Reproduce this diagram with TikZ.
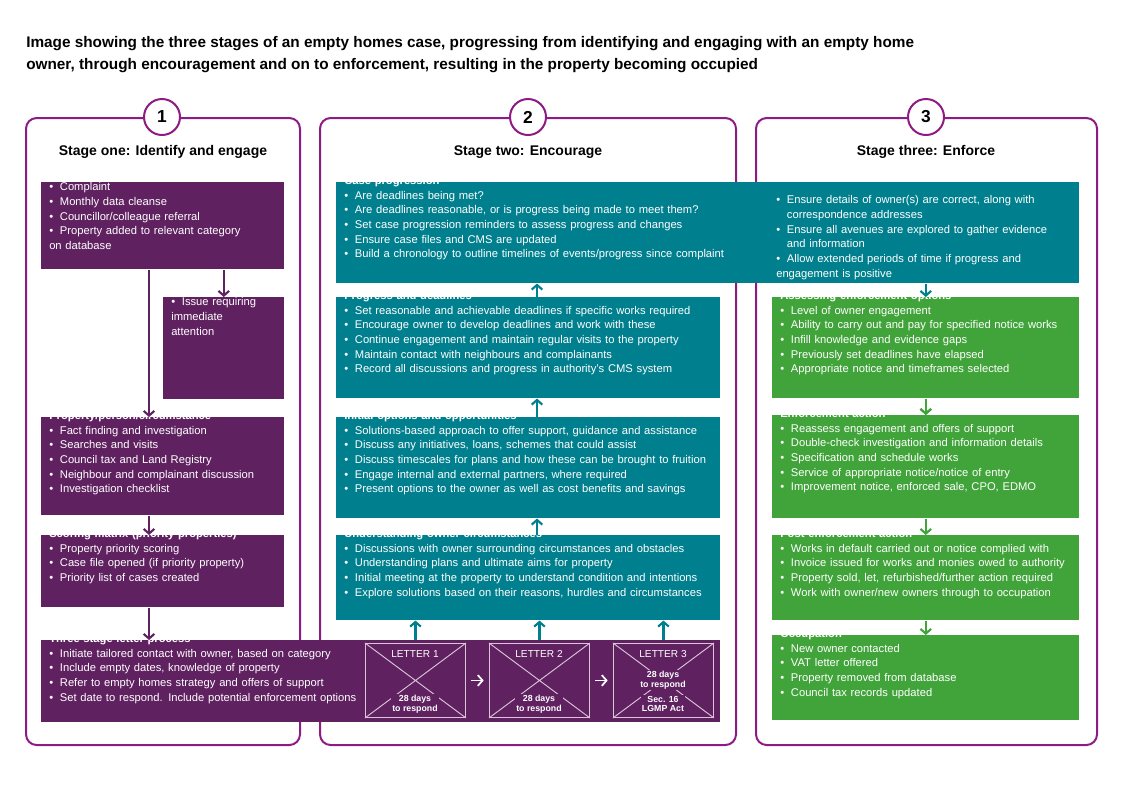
\documentclass[tikz,border=0pt]{standalone}
\usepackage{fontspec}
\setmainfont{Liberation Sans}
\usetikzlibrary{arrows.meta,positioning}
\definecolor{plum}{HTML}{5F2160}
\definecolor{petrol}{HTML}{00808E}
\definecolor{leaf}{HTML}{41A43A}
\definecolor{frame}{HTML}{8E1B83}
\definecolor{flap}{HTML}{D8C6D8}
\tikzset{
  box/.style={anchor=north west, inner sep=0pt, draw=none},
  txt/.style={anchor=north west, inner sep=0pt, text=white, align=left,
    font=\fontsize{8.4}{11}\selectfont},
  arr/.style={line width=1.6pt, -{Straight Barb[length=3.5pt,width=8pt]}},
  stageframe/.style={draw=frame, line width=1.5pt, rounded corners=8pt},
  num/.style={circle, draw=frame, line width=1.5pt, fill=white, minimum size=27pt,
    inner sep=0pt, font=\fontsize{13}{13}\selectfont\bfseries},
  head/.style={font=\fontsize{10.5}{12}\selectfont\bfseries},
  env/.style={draw=flap, line width=0.7pt, minimum width=75pt, minimum height=55.5pt,
    inner sep=0pt},
  envtxt/.style={fill=plum, text=white, inner sep=1pt, align=center,
    font=\fontsize{6.6}{7.4}\selectfont\bfseries},
}
\newcommand\itm[1]{\par\noindent\hangindent=8pt\hangafter=1\makebox[8pt][l]{\textbullet}#1}
\newcommand\hd[1]{\noindent\textbf{#1}}
% name, colour, x, y, width, height, text
\newcommand\stagebox[7]{%
  \pgfmathsetmacro\tw{(#5-14)*0.75}%
  \node[box, fill=#2, minimum width=#5*0.75pt, minimum height=#6*0.75pt] (#1) at (#3,#4) {};
  \node[txt, text width=\tw pt] (#1-t) at ([xshift=6pt,yshift=-4.5pt]#1.north west) {#7};}
\begin{document}
\begin{tikzpicture}[x=0.75pt,y=0.75pt,yscale=-1,xscale=1]
\useasboundingbox (0,0) rectangle (1123,794);

% title
\node[anchor=north west, inner sep=0pt, align=left, font=\fontsize{11.5}{16.5}\selectfont\bfseries]
  (title) at (26,36) {Image showing the three stages of an empty homes case, progressing from identifying and engaging with an empty home\\
  owner, through encouragement and on to enforcement, resulting in the property becoming occupied};

% frames
\draw[stageframe] (26,118) rectangle (300,745);
\draw[stageframe] (320,118) rectangle (736,745);
\draw[stageframe] (756,118) rectangle (1097,745);
\node[num] (n1) at (162,117) {1};
\node[num] (n2) at (528,117) {2};
\node[num] (n3) at (926,117) {3};
\node[head] (h1) at (163,152) {Stage one: Identify and engage};
\node[head] (h2) at (528,152) {Stage two: Encourage};
\node[head] (h3) at (926,152) {Stage three: Enforce};

% stage one
\stagebox{ident}{plum}{41}{182}{243}{87}{%
  \itm{Complaint}\itm{Monthly data cleanse}\itm{Councillor/colleague referral}%
  \itm{Property added to relevant category\newline on database}}
\stagebox{issue}{plum}{163}{297}{121}{102}{%
  \itm{Issue requiring\newline immediate\newline attention}}
\stagebox{person}{plum}{41}{417}{243}{98}{%
  \hd{Property/person/circumstance}%
  \itm{Fact finding and investigation}\itm{Searches and visits}%
  \itm{Council tax and Land Registry}\itm{Neighbour and complainant discussion}%
  \itm{Investigation checklist}}
\stagebox{score}{plum}{41}{535}{243}{72}{%
  \hd{Scoring matrix (priority properties)}%
  \itm{Property priority scoring}\itm{Case file opened (if priority property)}%
  \itm{Priority list of cases created}}
\stagebox{letters}{plum}{41}{640}{679}{82}{%
  \hd{Three stage letter process}%
  \itm{Initiate tailored contact with owner, based on category}%
  \itm{Include empty dates, knowledge of property}%
  \itm{Refer to empty homes strategy and offers of support}%
  \itm{Set date to respond. Include potential enforcement options}}

% stage two
\stagebox{caseprog}{petrol}{336}{182}{743}{101}{%
  \hd{Case progression}%
  \itm{Are deadlines being met?}%
  \itm{Are deadlines reasonable, or is progress being made to meet them?}%
  \itm{Set case progression reminders to assess progress and changes}%
  \itm{Ensure case files and CMS are updated}%
  \itm{Build a chronology to outline timelines of events/progress since complaint}}
\node[txt, text width=225pt] (caseprog-r) at (776,189) {%
  \itm{Ensure details of owner(s) are correct, along with\newline correspondence addresses}%
  \itm{Ensure all avenues are explored to gather evidence\newline and information}%
  \itm{Allow extended periods of time if progress and\newline engagement is positive}};
\stagebox{progress}{petrol}{336}{297}{384}{101}{%
  \hd{Progress and deadlines}%
  \itm{Set reasonable and achievable deadlines if specific works required}%
  \itm{Encourage owner to develop deadlines and work with these}%
  \itm{Continue engagement and maintain regular visits to the property}%
  \itm{Maintain contact with neighbours and complainants}%
  \itm{Record all discussions and progress in authority's CMS system}}
\stagebox{options}{petrol}{336}{417}{384}{101}{%
  \hd{Initial options and opportunities}%
  \itm{Solutions-based approach to offer support, guidance and assistance}%
  \itm{Discuss any initiatives, loans, schemes that could assist}%
  \itm{Discuss timescales for plans and how these can be brought to fruition}%
  \itm{Engage internal and external partners, where required}%
  \itm{Present options to the owner as well as cost benefits and savings}}
\stagebox{owner}{petrol}{336}{535}{384}{85}{%
  \hd{Understanding owner circumstances}%
  \itm{Discussions with owner surrounding circumstances and obstacles}%
  \itm{Understanding plans and ultimate aims for property}%
  \itm{Initial meeting at the property to understand condition and intentions}%
  \itm{Explore solutions based on their reasons, hurdles and circumstances}}

% stage three
\stagebox{assess}{leaf}{772}{297}{307}{101}{%
  \hd{Assessing enforcement options}%
  \itm{Level of owner engagement}%
  \itm{Ability to carry out and pay for specified notice works}%
  \itm{Infill knowledge and evidence gaps}%
  \itm{Previously set deadlines have elapsed}%
  \itm{Appropriate notice and timeframes selected}}
\stagebox{action}{leaf}{772}{415}{307}{103}{%
  \hd{Enforcement action}%
  \itm{Reassess engagement and offers of support}%
  \itm{Double-check investigation and information details}%
  \itm{Specification and schedule works}%
  \itm{Service of appropriate notice/notice of entry}%
  \itm{Improvement notice, enforced sale, CPO, EDMO}}
\stagebox{post}{leaf}{772}{535}{307}{85}{%
  \hd{Post-enforcement action}%
  \itm{Works in default carried out or notice complied with}%
  \itm{Invoice issued for works and monies owed to authority}%
  \itm{Property sold, let, refurbished/further action required}%
  \itm{Work with owner/new owners through to occupation}}
\stagebox{occupied}{leaf}{772}{635}{307}{85}{%
  \hd{Occupation}%
  \itm{New owner contacted}\itm{VAT letter offered}%
  \itm{Property removed from database}\itm{Council tax records updated}}

% envelopes
\node[env, anchor=north west] (l1) at (365,643) {};
\node[env, anchor=north west] (l2) at (489,643) {};
\node[env, anchor=north west] (l3) at (613,643) {};
\foreach \e in {l1,l2,l3}{
  \draw[flap, line width=0.7pt] (\e.north west) -- (\e.south east)
    (\e.north east) -- (\e.south west);}
\node[envtxt, font=\fontsize{7.6}{8}\selectfont] (l1-a) at (415,654) {LETTER 1};
\node[envtxt] (l1-b) at (415,704) {28 days\\to respond};
\node[envtxt, font=\fontsize{7.6}{8}\selectfont] (l2-a) at (539,654) {LETTER 2};
\node[envtxt] (l2-b) at (539,704) {28 days\\to respond};
\node[envtxt, font=\fontsize{7.6}{8}\selectfont] (l3-a) at (663,654) {LETTER 3};
\node[envtxt] (l3-b) at (663,680) {28 days\\to respond};
\node[envtxt] (l3-c) at (663,704) {Sec. 16\\LGMP Act};
\draw[arr, white, line width=1.3pt] ([xshift=4pt]l1.east) -- ([xshift=-4pt]l2.west);
\draw[arr, white, line width=1.3pt] ([xshift=4pt]l2.east) -- ([xshift=-4pt]l3.west);

% connectors
\draw[arr, plum] ([xshift=81pt]ident.south west) -- ([xshift=81pt]person.north west);
\draw[arr, plum] (ident.south -| issue.north) -- (issue.north);
\draw[arr, plum] ([xshift=81pt]person.south west) -- ([xshift=81pt]score.north west);
\draw[arr, plum] ([xshift=81pt]score.south west) -- ([xshift=81pt]letters.north west);
\foreach \l in {l1,l2,l3}
  \draw[arr, petrol] (\l.north |- letters.north) -- (\l.north |- owner.south);
\draw[arr, petrol] ([xshift=150.75pt]owner.north west) -- ([xshift=150.75pt]options.south west);
\draw[arr, petrol] ([xshift=150.75pt]options.north west) -- ([xshift=150.75pt]progress.south west);
\draw[arr, petrol] ([xshift=150.75pt]progress.north west) -- ([xshift=150.75pt]caseprog.south west);
\draw[arr, petrol] (caseprog.south -| assess.north) -- (assess.north);
\draw[arr, leaf] (assess) -- (action) ;
\draw[arr, leaf] (assess.south) -- (action.north);
\draw[arr, leaf] (action.south) -- (post.north);
\draw[arr, leaf] (post.south) -- (occupied.north);
\end{tikzpicture}
\end{document}
